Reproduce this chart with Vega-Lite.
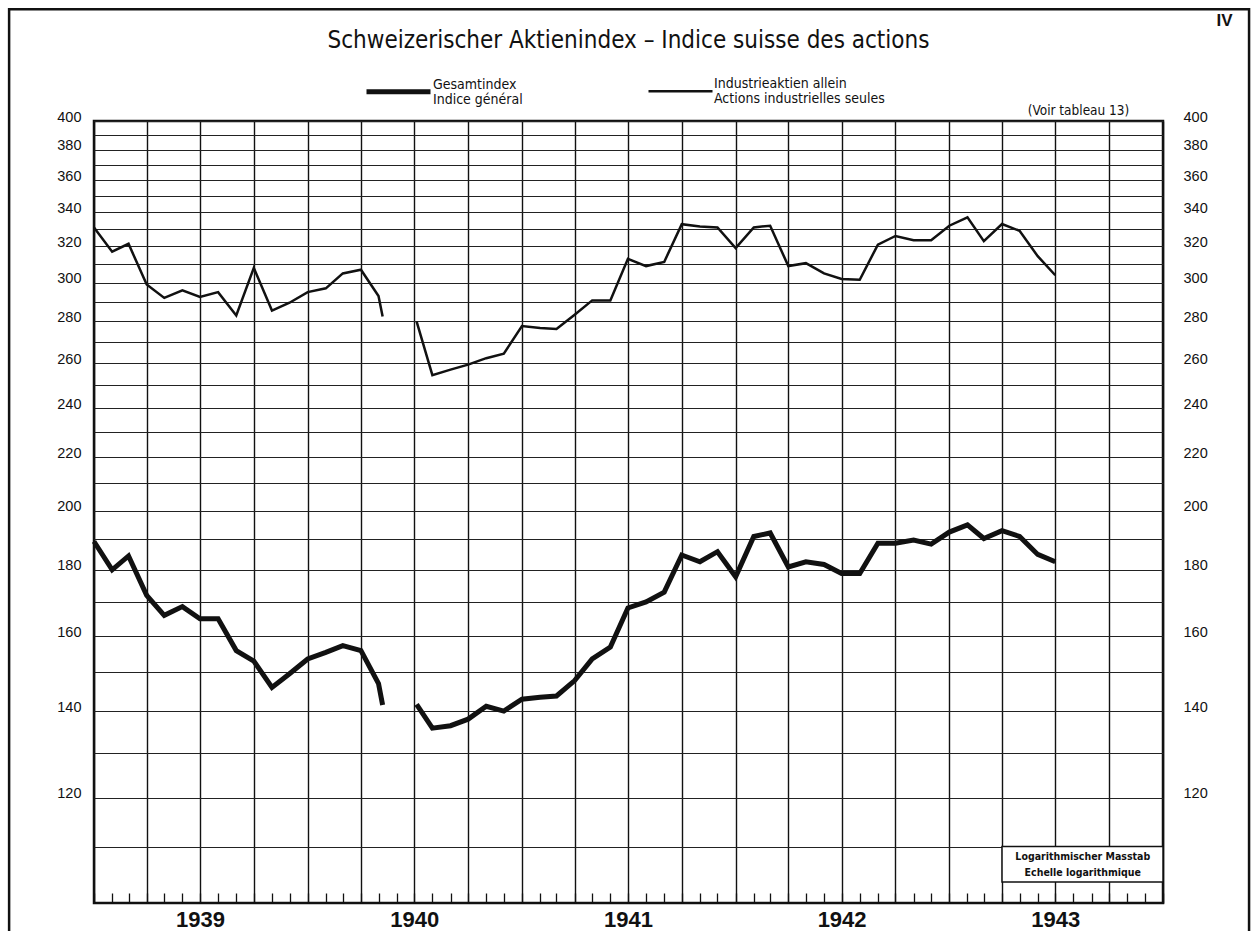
{
  "$schema": "https://vega.github.io/schema/vega-lite/v6.json",
  "width": 1069,
  "height": 782,
  "autosize": {"type": "none"},
  "padding": {"left": 94, "top": 121, "right": 91, "bottom": 28},
  "background": "white",
  "config": {
    "view": {"stroke": "#111", "strokeWidth": 2.5},
    "font": "Liberation Sans",
    "style": {"guide-label": {"lineHeight": 15}}
  },
  "title": {
    "text": "Schweizerischer Aktienindex – Indice suisse des actions",
    "fontSize": 24,
    "font": "Liberation Sans Narrow, DejaVu Sans Condensed, Liberation Sans",
    "fontWeight": "normal",
    "anchor": "middle",
    "frame": "group",
    "offset": -45,
    "color": "#111"
  },
  "datasets": {
    "idx": [
      {"d": "1939-01-01", "v": 331, "s": "Industrieaktien allein|Actions industrielles seules", "g": "I1"},
      {"d": "1939-02-01", "v": 317, "s": "Industrieaktien allein|Actions industrielles seules", "g": "I1"},
      {"d": "1939-03-01", "v": 321.5, "s": "Industrieaktien allein|Actions industrielles seules", "g": "I1"},
      {"d": "1939-04-01", "v": 299, "s": "Industrieaktien allein|Actions industrielles seules", "g": "I1"},
      {"d": "1939-05-01", "v": 292, "s": "Industrieaktien allein|Actions industrielles seules", "g": "I1"},
      {"d": "1939-06-01", "v": 296, "s": "Industrieaktien allein|Actions industrielles seules", "g": "I1"},
      {"d": "1939-07-01", "v": 292.5, "s": "Industrieaktien allein|Actions industrielles seules", "g": "I1"},
      {"d": "1939-08-01", "v": 295, "s": "Industrieaktien allein|Actions industrielles seules", "g": "I1"},
      {"d": "1939-09-01", "v": 283, "s": "Industrieaktien allein|Actions industrielles seules", "g": "I1"},
      {"d": "1939-10-01", "v": 308, "s": "Industrieaktien allein|Actions industrielles seules", "g": "I1"},
      {"d": "1939-11-01", "v": 285.5, "s": "Industrieaktien allein|Actions industrielles seules", "g": "I1"},
      {"d": "1939-12-01", "v": 289.5, "s": "Industrieaktien allein|Actions industrielles seules", "g": "I1"},
      {"d": "1940-01-01", "v": 295, "s": "Industrieaktien allein|Actions industrielles seules", "g": "I1"},
      {"d": "1940-02-01", "v": 297, "s": "Industrieaktien allein|Actions industrielles seules", "g": "I1"},
      {"d": "1940-03-01", "v": 305, "s": "Industrieaktien allein|Actions industrielles seules", "g": "I1"},
      {"d": "1940-04-01", "v": 307, "s": "Industrieaktien allein|Actions industrielles seules", "g": "I1"},
      {"d": "1940-05-01", "v": 293, "s": "Industrieaktien allein|Actions industrielles seules", "g": "I1"},
      {"d": "1940-05-08", "v": 282.5, "s": "Industrieaktien allein|Actions industrielles seules", "g": "I1"},
      {"d": "1940-07-05", "v": 280, "s": "Industrieaktien allein|Actions industrielles seules", "g": "I2"},
      {"d": "1940-08-01", "v": 254.5, "s": "Industrieaktien allein|Actions industrielles seules", "g": "I2"},
      {"d": "1940-09-01", "v": 257, "s": "Industrieaktien allein|Actions industrielles seules", "g": "I2"},
      {"d": "1940-10-01", "v": 259.3, "s": "Industrieaktien allein|Actions industrielles seules", "g": "I2"},
      {"d": "1940-11-01", "v": 262.3, "s": "Industrieaktien allein|Actions industrielles seules", "g": "I2"},
      {"d": "1940-12-01", "v": 264.4, "s": "Industrieaktien allein|Actions industrielles seules", "g": "I2"},
      {"d": "1941-01-01", "v": 277.7, "s": "Industrieaktien allein|Actions industrielles seules", "g": "I2"},
      {"d": "1941-02-01", "v": 276.8, "s": "Industrieaktien allein|Actions industrielles seules", "g": "I2"},
      {"d": "1941-03-01", "v": 276.3, "s": "Industrieaktien allein|Actions industrielles seules", "g": "I2"},
      {"d": "1941-04-01", "v": 283.4, "s": "Industrieaktien allein|Actions industrielles seules", "g": "I2"},
      {"d": "1941-05-01", "v": 290.7, "s": "Industrieaktien allein|Actions industrielles seules", "g": "I2"},
      {"d": "1941-06-01", "v": 290.7, "s": "Industrieaktien allein|Actions industrielles seules", "g": "I2"},
      {"d": "1941-07-01", "v": 313, "s": "Industrieaktien allein|Actions industrielles seules", "g": "I2"},
      {"d": "1941-08-01", "v": 309, "s": "Industrieaktien allein|Actions industrielles seules", "g": "I2"},
      {"d": "1941-09-01", "v": 311.3, "s": "Industrieaktien allein|Actions industrielles seules", "g": "I2"},
      {"d": "1941-10-01", "v": 332.9, "s": "Industrieaktien allein|Actions industrielles seules", "g": "I2"},
      {"d": "1941-11-01", "v": 331.5, "s": "Industrieaktien allein|Actions industrielles seules", "g": "I2"},
      {"d": "1941-12-01", "v": 331, "s": "Industrieaktien allein|Actions industrielles seules", "g": "I2"},
      {"d": "1942-01-01", "v": 319, "s": "Industrieaktien allein|Actions industrielles seules", "g": "I2"},
      {"d": "1942-02-01", "v": 331, "s": "Industrieaktien allein|Actions industrielles seules", "g": "I2"},
      {"d": "1942-03-01", "v": 332, "s": "Industrieaktien allein|Actions industrielles seules", "g": "I2"},
      {"d": "1942-04-01", "v": 309, "s": "Industrieaktien allein|Actions industrielles seules", "g": "I2"},
      {"d": "1942-05-01", "v": 310.6, "s": "Industrieaktien allein|Actions industrielles seules", "g": "I2"},
      {"d": "1942-06-01", "v": 305, "s": "Industrieaktien allein|Actions industrielles seules", "g": "I2"},
      {"d": "1942-07-01", "v": 302, "s": "Industrieaktien allein|Actions industrielles seules", "g": "I2"},
      {"d": "1942-08-01", "v": 301.6, "s": "Industrieaktien allein|Actions industrielles seules", "g": "I2"},
      {"d": "1942-09-01", "v": 321, "s": "Industrieaktien allein|Actions industrielles seules", "g": "I2"},
      {"d": "1942-10-01", "v": 326, "s": "Industrieaktien allein|Actions industrielles seules", "g": "I2"},
      {"d": "1942-11-01", "v": 323.5, "s": "Industrieaktien allein|Actions industrielles seules", "g": "I2"},
      {"d": "1942-12-01", "v": 323.5, "s": "Industrieaktien allein|Actions industrielles seules", "g": "I2"},
      {"d": "1943-01-01", "v": 332, "s": "Industrieaktien allein|Actions industrielles seules", "g": "I2"},
      {"d": "1943-02-01", "v": 337, "s": "Industrieaktien allein|Actions industrielles seules", "g": "I2"},
      {"d": "1943-03-01", "v": 323, "s": "Industrieaktien allein|Actions industrielles seules", "g": "I2"},
      {"d": "1943-04-01", "v": 333, "s": "Industrieaktien allein|Actions industrielles seules", "g": "I2"},
      {"d": "1943-05-01", "v": 329, "s": "Industrieaktien allein|Actions industrielles seules", "g": "I2"},
      {"d": "1943-06-01", "v": 314.5, "s": "Industrieaktien allein|Actions industrielles seules", "g": "I2"},
      {"d": "1943-07-01", "v": 304, "s": "Industrieaktien allein|Actions industrielles seules", "g": "I2"},
      {"d": "1939-01-01", "v": 189.3, "s": "Gesamtindex|Indice général", "g": "G1"},
      {"d": "1939-02-01", "v": 180, "s": "Gesamtindex|Indice général", "g": "G1"},
      {"d": "1939-03-01", "v": 184.5, "s": "Gesamtindex|Indice général", "g": "G1"},
      {"d": "1939-04-01", "v": 172, "s": "Gesamtindex|Indice général", "g": "G1"},
      {"d": "1939-05-01", "v": 166, "s": "Gesamtindex|Indice général", "g": "G1"},
      {"d": "1939-06-01", "v": 168.6, "s": "Gesamtindex|Indice général", "g": "G1"},
      {"d": "1939-07-01", "v": 165, "s": "Gesamtindex|Indice général", "g": "G1"},
      {"d": "1939-08-01", "v": 165, "s": "Gesamtindex|Indice général", "g": "G1"},
      {"d": "1939-09-01", "v": 155.9, "s": "Gesamtindex|Indice général", "g": "G1"},
      {"d": "1939-10-01", "v": 153, "s": "Gesamtindex|Indice général", "g": "G1"},
      {"d": "1939-11-01", "v": 146, "s": "Gesamtindex|Indice général", "g": "G1"},
      {"d": "1939-12-01", "v": 149.6, "s": "Gesamtindex|Indice général", "g": "G1"},
      {"d": "1940-01-01", "v": 153.6, "s": "Gesamtindex|Indice général", "g": "G1"},
      {"d": "1940-02-01", "v": 155.4, "s": "Gesamtindex|Indice général", "g": "G1"},
      {"d": "1940-03-01", "v": 157.3, "s": "Gesamtindex|Indice général", "g": "G1"},
      {"d": "1940-04-01", "v": 155.9, "s": "Gesamtindex|Indice général", "g": "G1"},
      {"d": "1940-05-01", "v": 147, "s": "Gesamtindex|Indice général", "g": "G1"},
      {"d": "1940-05-08", "v": 141.5, "s": "Gesamtindex|Indice général", "g": "G1"},
      {"d": "1940-07-05", "v": 141.7, "s": "Gesamtindex|Indice général", "g": "G2"},
      {"d": "1940-08-01", "v": 135.8, "s": "Gesamtindex|Indice général", "g": "G2"},
      {"d": "1940-09-01", "v": 136.4, "s": "Gesamtindex|Indice général", "g": "G2"},
      {"d": "1940-10-01", "v": 138, "s": "Gesamtindex|Indice général", "g": "G2"},
      {"d": "1940-11-01", "v": 141.2, "s": "Gesamtindex|Indice général", "g": "G2"},
      {"d": "1940-12-01", "v": 140, "s": "Gesamtindex|Indice général", "g": "G2"},
      {"d": "1941-01-01", "v": 143, "s": "Gesamtindex|Indice général", "g": "G2"},
      {"d": "1941-02-01", "v": 143.5, "s": "Gesamtindex|Indice général", "g": "G2"},
      {"d": "1941-03-01", "v": 143.8, "s": "Gesamtindex|Indice général", "g": "G2"},
      {"d": "1941-04-01", "v": 147.8, "s": "Gesamtindex|Indice général", "g": "G2"},
      {"d": "1941-05-01", "v": 153.6, "s": "Gesamtindex|Indice général", "g": "G2"},
      {"d": "1941-06-01", "v": 156.9, "s": "Gesamtindex|Indice général", "g": "G2"},
      {"d": "1941-07-01", "v": 168.2, "s": "Gesamtindex|Indice général", "g": "G2"},
      {"d": "1941-08-01", "v": 170, "s": "Gesamtindex|Indice général", "g": "G2"},
      {"d": "1941-09-01", "v": 173, "s": "Gesamtindex|Indice général", "g": "G2"},
      {"d": "1941-10-01", "v": 184.8, "s": "Gesamtindex|Indice général", "g": "G2"},
      {"d": "1941-11-01", "v": 182.6, "s": "Gesamtindex|Indice général", "g": "G2"},
      {"d": "1941-12-01", "v": 185.9, "s": "Gesamtindex|Indice général", "g": "G2"},
      {"d": "1942-01-01", "v": 177.8, "s": "Gesamtindex|Indice général", "g": "G2"},
      {"d": "1942-02-01", "v": 191, "s": "Gesamtindex|Indice général", "g": "G2"},
      {"d": "1942-03-01", "v": 192.2, "s": "Gesamtindex|Indice général", "g": "G2"},
      {"d": "1942-04-01", "v": 180.9, "s": "Gesamtindex|Indice général", "g": "G2"},
      {"d": "1942-05-01", "v": 182.6, "s": "Gesamtindex|Indice général", "g": "G2"},
      {"d": "1942-06-01", "v": 181.7, "s": "Gesamtindex|Indice général", "g": "G2"},
      {"d": "1942-07-01", "v": 178.8, "s": "Gesamtindex|Indice général", "g": "G2"},
      {"d": "1942-08-01", "v": 178.8, "s": "Gesamtindex|Indice général", "g": "G2"},
      {"d": "1942-09-01", "v": 188.7, "s": "Gesamtindex|Indice général", "g": "G2"},
      {"d": "1942-10-01", "v": 188.7, "s": "Gesamtindex|Indice général", "g": "G2"},
      {"d": "1942-11-01", "v": 189.8, "s": "Gesamtindex|Indice général", "g": "G2"},
      {"d": "1942-12-01", "v": 188.4, "s": "Gesamtindex|Indice général", "g": "G2"},
      {"d": "1943-01-01", "v": 192.5, "s": "Gesamtindex|Indice général", "g": "G2"},
      {"d": "1943-02-01", "v": 195, "s": "Gesamtindex|Indice général", "g": "G2"},
      {"d": "1943-03-01", "v": 190.3, "s": "Gesamtindex|Indice général", "g": "G2"},
      {"d": "1943-04-01", "v": 193, "s": "Gesamtindex|Indice général", "g": "G2"},
      {"d": "1943-05-01", "v": 191, "s": "Gesamtindex|Indice général", "g": "G2"},
      {"d": "1943-06-01", "v": 185, "s": "Gesamtindex|Indice général", "g": "G2"},
      {"d": "1943-07-01", "v": 182.6, "s": "Gesamtindex|Indice général", "g": "G2"}
    ],
    "note": [
      {"t": "Logarithmischer Masstab"}
    ]
  },
  "layer": [
    {
      "data": {"name": "idx"},
      "mark": {"type": "line", "color": "#111", "strokeCap": "butt", "strokeJoin": "miter"},
      "encoding": {
        "x": {
          "field": "d",
          "type": "temporal",
          "scale": {
            "type": "utc",
            "nice": false,
            "domain": [
              {"year": 1939, "month": 1, "date": 1, "utc": true},
              {"year": 1944, "month": 1, "date": 1, "utc": true}
            ]
          },
          "axis": {
            "title": null,
            "tickCount": {"interval": "month", "step": 1},
            "labelExpr": "utcmonth(datum.value) == 6 ? utcFormat(datum.value, '%Y') : ''",
            "labelOverlap": false,
            "labelFlush": false,
            "labelBound": false,
            "labelAlign": "center",
            "labelFontSize": 22,
            "labelFontWeight": "bold",
            "labelFont": "Liberation Sans",
            "labelColor": "#111",
            "labelPadding": 16,
            "domain": false,
            "ticks": true,
            "tickSize": -10,
            "tickColor": "#111",
            "tickWidth": 1.3,
            "grid": true,
            "gridColor": "#111",
            "gridWidth": 1.4,
            "gridOpacity": {"condition": {"test": "utcmonth(datum.value) % 3 == 0", "value": 1}, "value": 0}
          }
        },
        "y": {
          "field": "v",
          "type": "quantitative",
          "scale": {"type": "log", "domain": [99.5, 400], "nice": false},
          "axis": {
            "orient": "left",
            "values": [110, 120, 130, 140, 150, 160, 170, 180, 190, 200, 210, 220, 230, 240, 250, 260, 270, 280, 290, 300, 310, 320, 330, 340, 350, 360, 370, 380, 390, 400],
            "labelExpr": "datum.value % 20 == 0 ? datum.label : ''",
            "format": "d",
            "labelOverlap": false,
            "labelBound": false,
            "labelFontSize": 14.5,
            "labelFont": "Liberation Sans",
            "labelColor": "#111",
            "labelPadding": 13,
            "labelOffset": -4,
            "ticks": false,
            "domain": false,
            "grid": true,
            "gridColor": "#222",
            "gridWidth": 1.1,
            "title": "(Voir tableau 13)",
            "titleAngle": 0,
            "titleX": 984,
            "titleY": -11,
            "titleAlign": "center",
            "titleBaseline": "middle",
            "titleFontSize": 13.5,
            "titleFontWeight": "normal",
            "titleFont": "Liberation Sans Narrow, DejaVu Sans Condensed, Liberation Sans",
            "titleColor": "#111"
          }
        },
        "strokeWidth": {
          "field": "s",
          "type": "nominal",
          "scale": {
            "domain": ["Gesamtindex|Indice général", "Industrieaktien allein|Actions industrielles seules"],
            "range": [5, 2.5]
          },
          "legend": {
            "orient": "none",
            "legendX": 270,
            "legendY": -64,
            "direction": "horizontal",
            "title": null,
            "padding": 0,
            "symbolType": "stroke",
            "symbolSize": 4096,
            "symbolStrokeColor": "#111",
            "labelExpr": "split(datum.label, '|')",
            "labelBaseline": "line-bottom",
            "labelFontSize": 14,
            "labelFont": "Liberation Sans Narrow, DejaVu Sans Condensed, Liberation Sans",
            "labelColor": "#111",
            "labelOffset": 0,
            "labelLimit": 300,
            "columnPadding": 120
          }
        },
        "detail": {"field": "g", "type": "nominal"}
      }
    },
    {
      "data": {"name": "note"},
      "mark": {"type": "rect", "fill": "white", "stroke": "#111", "strokeWidth": 1.5},
      "encoding": {
        "x": {"datum": {"year": 1943, "month": 4, "date": 1, "utc": true}, "type": "temporal"},
        "x2": {"datum": {"year": 1944, "month": 1, "date": 1, "utc": true}},
        "y": {
          "datum": 103.3,
          "type": "quantitative",
          "axis": {
            "orient": "right",
            "values": [110, 120, 130, 140, 150, 160, 170, 180, 190, 200, 210, 220, 230, 240, 250, 260, 270, 280, 290, 300, 310, 320, 330, 340, 350, 360, 370, 380, 390, 400],
            "labelExpr": "datum.value % 20 == 0 ? datum.label : ''",
            "format": "d",
            "labelOverlap": false,
            "labelBound": false,
            "labelFontSize": 14.5,
            "labelFont": "Liberation Sans",
            "labelColor": "#111",
            "labelPadding": 20,
            "labelOffset": -4,
            "ticks": false,
            "domain": false,
            "grid": false,
            "title": "IV",
            "titleAngle": 0,
            "titleX": 61,
            "titleY": -101,
            "titleAlign": "center",
            "titleBaseline": "middle",
            "titleFontSize": 17,
            "titleFontWeight": "bold",
            "titleFont": "Liberation Sans",
            "titleColor": "#111"
          }
        },
        "y2": {"datum": 110}
      }
    },
    {
      "data": {"name": "note"},
      "mark": {
        "type": "text",
        "text": ["Logarithmischer Masstab", "Echelle logarithmique"],
        "fontSize": 10.5,
        "fontWeight": "bold",
        "font": "Liberation Sans Narrow, DejaVu Sans Condensed, Liberation Sans",
        "color": "#111",
        "align": "center",
        "baseline": "line-bottom",
        "lineHeight": 16
      },
      "encoding": {
        "x": {"datum": {"year": 1943, "month": 8, "date": 17, "utc": true}, "type": "temporal"},
        "y": {"datum": 106.5, "type": "quantitative", "axis": null}
      }
    },
    {
      "data": {"name": "note"},
      "mark": {"type": "rect", "filled": false, "stroke": "#111", "strokeWidth": 2.5},
      "encoding": {
        "x": {"datum": {"year": 1938, "month": 8, "date": 9, "utc": true}, "type": "temporal"},
        "x2": {"datum": {"year": 1944, "month": 5, "date": 27, "utc": true}},
        "y": {"datum": 488, "type": "quantitative", "axis": null},
        "y2": {"datum": 90}
      }
    }
  ],
  "resolve": {"axis": {"y": "independent"}}
}
